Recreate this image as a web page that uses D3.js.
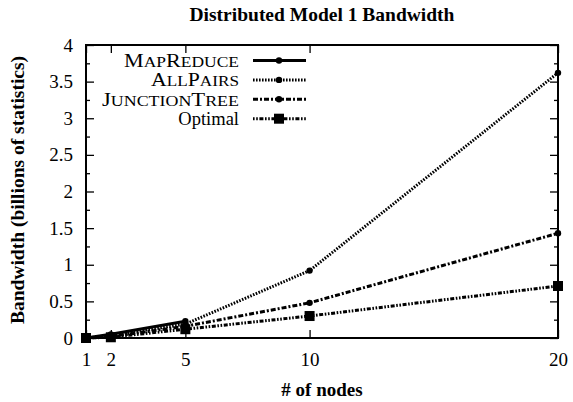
<!DOCTYPE html>
<html>
<head>
<meta charset="utf-8">
<script src="https://cdn.jsdelivr.net/npm/d3@7"></script>
<style>
  body { margin: 0; background: #fff; }
  text { font-family: "Liberation Serif", "Times New Roman", serif; fill: #000; }
</style>
</head>
<body>
<svg id="chart" width="573" height="402"></svg>
<script>
// chart values
const nodes = [1, 2, 5, 10, 20];
const mapReduce = [0, 0.05, 0.23];
const allPairs = [0, 0.03, 0.19, 0.92, 3.62];
const junctionTree = [0, 0.02, 0.16, 0.48, 1.43];
const optimal = [0, 0.01, 0.12, 0.30, 0.71];
const yTicks = [0, 0.5, 1, 1.5, 2, 2.5, 3, 3.5, 4];
const seriesNames = ["MapReduce", "AllPairs", "JunctionTree", "Optimal"];

const svg = d3.select("#chart");
const margin = {top: 45, right: 15, bottom: 64, left: 86};
const width = +svg.attr("width") - margin.left - margin.right;
const height = +svg.attr("height") - margin.top - margin.bottom;

const x = d3.scaleLinear().domain([1, 20]).range([0, width]);
const y = d3.scaleLinear().domain([0, 4]).range([height, 0]);

const g = svg.append("g")
  .attr("transform", "translate(" + margin.left + "," + margin.top + ")");

// minor ticks every 0.25
const minor = d3.range(0.25, 4, 0.5);

function tickAxis(axis, vals, size) {
  return axis.tickValues(vals).tickSize(-size).tickFormat("");
}

g.append("g")
  .attr("class", "axis")
  .call(d3.axisLeft(y).tickValues(yTicks).tickSize(-8).tickPadding(13).tickFormat(d3.format("")));
g.append("g").attr("class", "axis").call(tickAxis(d3.axisLeft(y), minor, 4));
g.append("g").attr("class", "axis").attr("transform", `translate(${width},0)`)
  .call(tickAxis(d3.axisRight(y), yTicks, 8));
g.append("g").attr("class", "axis").attr("transform", `translate(${width},0)`)
  .call(tickAxis(d3.axisRight(y), minor, 4));

g.append("g")
  .attr("class", "axis")
  .attr("transform", `translate(0,${height})`)
  .call(d3.axisBottom(x).tickValues(nodes).tickSize(-8).tickPadding(15).tickFormat(d3.format("d")));
g.append("g").attr("class", "axis").call(tickAxis(d3.axisTop(x), nodes, 8));

g.selectAll(".axis .domain").remove();
g.selectAll(".axis line").attr("stroke", "#000").attr("stroke-width", 1.3);
g.selectAll(".axis text").style("font-size", "19px").style("font-family", "Liberation Serif");

g.append("rect")
  .attr("width", width).attr("height", height)
  .attr("fill", "none").attr("stroke", "#000").attr("stroke-width", 2);

// series
const series = [
  {name: seriesNames[0], vals: mapReduce, dash: null, mark: "circle", len: 115},
  {name: seriesNames[1], vals: allPairs, dash: "1.6,1.4", mark: "circle", len: 88},
  {name: seriesNames[2], vals: junctionTree, dash: "5,2,2,2", mark: "circle", len: 137},
  {name: seriesNames[3], vals: optimal, dash: "1.6,1.6,1.6,1.6,4,1.6", mark: "square", len: null}
];

const line = d3.line().x(d => x(d[0])).y(d => y(d[1]));

series.forEach(s => {
  const pts = s.vals.map((v, i) => [nodes[i], v]);
  g.append("path")
    .datum(pts)
    .attr("d", line)
    .attr("fill", "none")
    .attr("stroke", "#000")
    .attr("stroke-width", 3)
    .attr("stroke-dasharray", s.dash);
  if (s.mark === "circle") {
    g.selectAll(null).data(pts).enter().append("circle")
      .attr("cx", d => x(d[0])).attr("cy", d => y(d[1])).attr("r", 3.2);
  } else {
    g.selectAll(null).data(pts).enter().append("rect")
      .attr("x", d => x(d[0]) - 5).attr("y", d => y(d[1]) - 5)
      .attr("width", 10).attr("height", 10);
  }
});

// legend (small caps done by hand: capitals full size, lower case as smaller capitals)
const legend = g.append("g").attr("transform", "translate(0,15.5)");
series.forEach((s, i) => {
  const row = legend.append("g").attr("transform", `translate(0,${i * 19.4})`);
  const t = row.append("text")
    .attr("x", 153).attr("y", 6.5)
    .attr("text-anchor", "end")
    .style("font-size", "18.5px");
  if (s.len) {
    t.attr("textLength", s.len).attr("lengthAdjust", "spacingAndGlyphs");
    s.name.split("").forEach(ch => {
      const up = ch === ch.toUpperCase();
      t.append("tspan")
        .style("font-size", up ? "19px" : "15px")
        .text(ch.toUpperCase());
    });
  } else {
    t.text(s.name);
  }
  row.append("line")
    .attr("x1", 167).attr("x2", 220)
    .attr("stroke", "#000").attr("stroke-width", 3)
    .attr("stroke-dasharray", s.dash);
  if (s.mark === "circle") {
    row.append("circle").attr("cx", 193).attr("cy", 0).attr("r", 3.2);
  } else {
    row.append("rect").attr("x", 188).attr("y", -5).attr("width", 10).attr("height", 10);
  }
});

// titles
svg.append("text")
  .attr("x", margin.left + width / 2).attr("y", 21)
  .attr("text-anchor", "middle")
  .style("font-size", "19.5px").style("font-weight", "bold")
  .text("Distributed Model 1 Bandwidth");

svg.append("text")
  .attr("x", margin.left + width / 2).attr("y", 396)
  .attr("text-anchor", "middle")
  .style("font-size", "19px").style("font-weight", "bold")
  .text("# of nodes");

svg.append("text")
  .attr("transform", `translate(24,${190}) rotate(-90)`)
  .attr("text-anchor", "middle")
  .style("font-size", "19.5px").style("font-weight", "bold")
  .text("Bandwidth (billions of statistics)");
</script>
</body>
</html>
